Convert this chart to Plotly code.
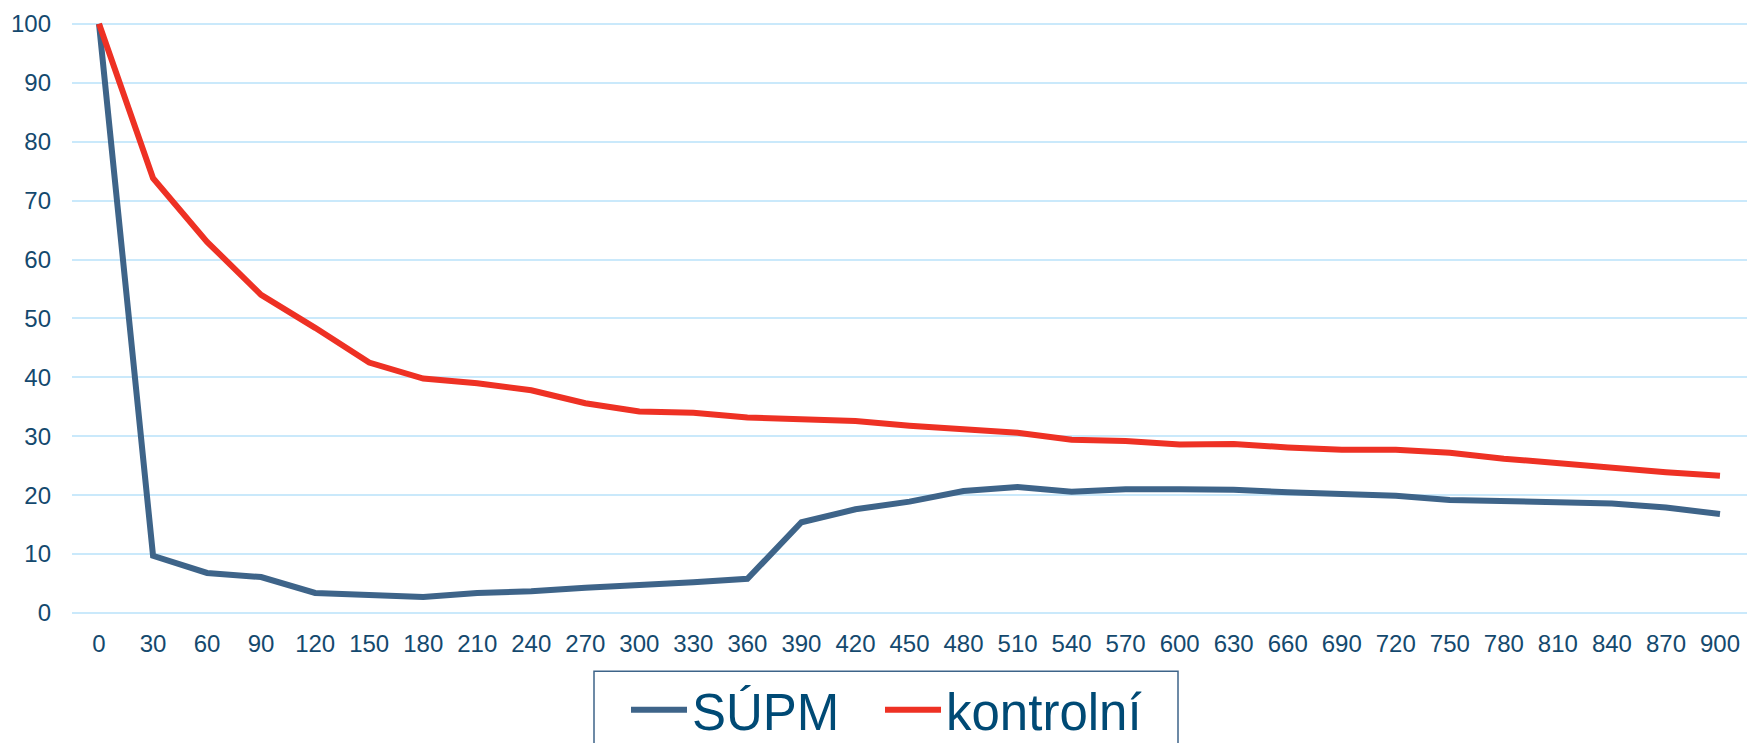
import plotly.graph_objects as go

time_s = list(range(0, 901, 30))
supm = [100, 9.7, 6.8, 6.1, 3.4, 3.0, 2.7, 3.4, 3.7, 4.3, 4.7, 5.2, 5.8, 15.4, 17.6,
        18.9, 20.7, 21.4, 20.6, 21.0, 21.0, 20.9, 20.5, 20.1, 19.9, 19.2, 19.0, 19.0,
        18.6, 17.9, 16.8]
kontrolni = [100, 73.8, 63.0, 54.0, 48.4, 42.5, 39.8, 39.0, 37.8, 35.6, 34.2, 34.0,
             33.2, 33.0, 32.6, 31.8, 31.1, 30.6, 29.4, 29.2, 28.6, 28.7, 28.1, 27.7,
             27.7, 27.2, 26.2, 25.4, 24.6, 23.9, 23.3]
y_ticks = list(range(0, 101, 10))

W, H = 1747, 743
ML, MR, MT, MB = 72, 0, 14.5, 130.2
PW, PH = W - ML - MR, H - MT - MB


def px_x(p):
    return (p - ML) / PW


def px_y(p):
    return (H - MB - p) / PH


fig = go.Figure()
fig.add_trace(go.Scatter(x=time_s, y=supm, mode="lines", name="SÚPM",
                         line=dict(color="#3E6489", width=6), legend="legend"))
fig.add_trace(go.Scatter(x=time_s, y=kontrolni, mode="lines", name="kontrolní",
                         line=dict(color="#EE3124", width=6), legend="legend2"))

tick_font = dict(family="Liberation Sans, Arial, sans-serif", size=24, color="#14496E")
legend_font = dict(family="Liberation Sans, Arial, sans-serif", size=51, color="#004A75")

# legend frame
fig.add_shape(type="rect", xref="paper", yref="paper",
              x0=px_x(594), x1=px_x(1178), y0=px_y(760), y1=px_y(671),
              line=dict(color="#3E6489", width=1.5), fillcolor="rgba(0,0,0,0)",
              layer="above")

common_legend = dict(orientation="h", xanchor="left", y=px_y(670), yanchor="top",
                     itemwidth=56, font=legend_font, borderwidth=0,
                     bgcolor="rgba(0,0,0,0)")

fig.update_layout(
    width=W, height=H,
    margin=dict(l=ML, r=MR, t=MT, b=MB, pad=0, autoexpand=False),
    paper_bgcolor="white", plot_bgcolor="white",
    xaxis=dict(range=[-15, 915], tickmode="array", tickvals=time_s,
               ticktext=[str(v) for v in time_s], showgrid=False, zeroline=False,
               showline=False, ticks="", tickfont=tick_font, ticklabelstandoff=14,
               automargin=False),
    yaxis=dict(range=[0, 101.5], tickmode="array", tickvals=y_ticks,
               showgrid=True, gridcolor="#CAE9FB", gridwidth=2,
               zeroline=True, zerolinecolor="#CAE9FB", zerolinewidth=2,
               showline=False, ticks="", tickfont=tick_font, ticklabelstandoff=20,
               automargin=False),
    showlegend=True,
    legend=dict(x=px_x(626), **common_legend),
    legend2=dict(x=px_x(880), **common_legend),
)

fig.write_html(
    "out.html",
    config={"displayModeBar": False},
    post_script="document.body.style.margin='0';document.body.style.overflow='hidden';",
)
